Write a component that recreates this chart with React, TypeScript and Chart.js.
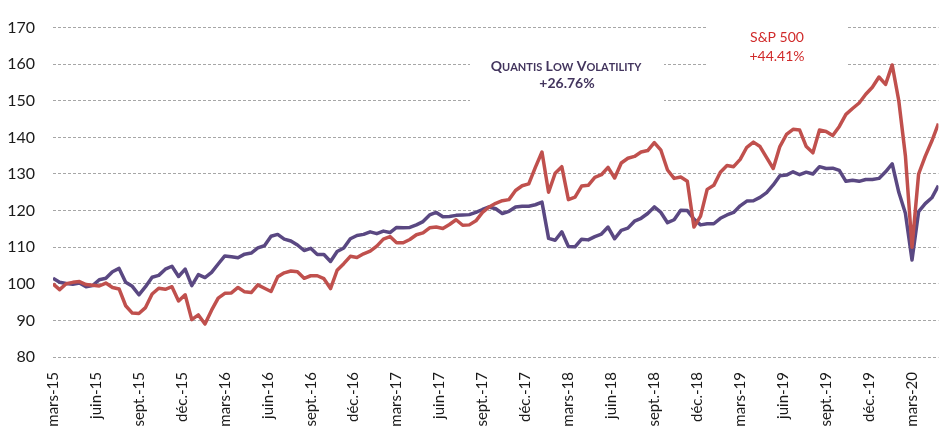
import React, { useEffect, useRef } from "react";
import { Chart, registerables } from "chart.js";

Chart.register(...registerables);

// Quarter tick labels (one every 13 weeks)
const quarterLabels = [
  "mars-15", "juin-15", "sept.-15", "déc.-15",
  "mars-16", "juin-16", "sept.-16", "déc.-16",
  "mars-17", "juin-17", "sept.-17", "déc.-17",
  "mars-18", "juin-18", "sept.-18", "déc.-18",
  "mars-19", "juin-19", "sept.-19", "déc.-19",
  "mars-20",
];
const weeksPerQuarter = 13;
const weeksPerPoint = 2;

// S&P 500 (base 100), one value every 2 weeks from March 2015
const sp500 = [
  100, 98.4, 100, 100.4, 100.6, 99.8, 99.6, 99.4, 100.2, 99.0, 98.6, 94.0, 92.0, 91.9, 93.5, 97.2, 98.8, 98.5, 99.2, 95.3, 97.0, 90.2, 91.5,
  89.0, 92.8, 96.1, 97.4, 97.5, 99.0, 97.8, 97.6, 99.7, 98.8, 97.9, 101.9, 103, 103.5, 103.3, 101.5, 102.2, 102.2, 101.4, 98.7, 103.7, 105.5,
  107.5, 107.2, 108.2, 108.9, 110.3, 112.2, 112.9, 111.2, 111.2, 112.1, 113.4, 113.9, 115.3, 115.5, 115.1, 116.2, 117.5, 116, 116.1, 117.2, 119.5, 121.0,
  122, 122.7, 123, 125.5, 126.8, 127.3, 131.8, 136, 125, 130.2, 132, 123, 123.7, 126.7, 126.9, 129.1, 129.8, 131.8, 128.9, 133, 134.3, 134.8,
  136, 136.4, 138.6, 136.5, 131.1, 128.8, 129.2, 128, 115.5, 118.5, 125.8, 126.9, 130.5, 132.3, 132, 134, 137.3, 138.7, 137.5, 134.5, 131.5,
  137.5, 140.8, 142.2, 142, 137.5, 135.8, 142, 141.6, 140.5, 143, 146.3, 147.9, 149.4, 151.8, 153.7, 156.5, 154.5, 159.8, 150, 135, 110,
  130, 134.8, 139, 143.8,
];

// Quantis Low Volatility (base 100)
const quantis = [
  101.5, 100.4, 100.1, 99.9, 100.2, 99.2, 99.5, 101.1, 101.5, 103.3, 104.2, 100.4, 99.3, 97.0, 99.2, 101.8, 102.3, 104.0, 104.8, 102.0, 104.0, 99.5, 102.5,
  101.7, 103.1, 105.4, 107.6, 107.4, 107.1, 108.1, 108.4, 109.8, 110.4, 113, 113.5, 112.2, 111.7, 110.6, 109.1, 109.7, 108, 108, 106.1, 108.8, 109.8,
  112.3, 113.2, 113.5, 114.2, 113.7, 114.4, 114, 115.4, 115.3, 115.4, 116.1, 117, 118.8, 119.5, 118.3, 118.4, 118.7, 118.8, 118.9, 119.5, 120.3, 121.0,
  120.5, 119.2, 119.8, 121, 121.2, 121.2, 121.6, 122.3, 112.4, 111.9, 114.2, 110.2, 110.1, 112.2, 112, 112.9, 113.6, 115.5, 112.3, 114.6, 115.2, 117.1,
  117.9, 119.2, 121, 119.5, 116.7, 117.5, 120.1, 120, 117.7, 116.1, 116.4, 116.4, 117.9, 118.8, 119.5, 121.3, 122.6, 122.7, 123.6, 124.9, 127,
  129.5, 129.7, 130.6, 129.8, 130.5, 130, 132, 131.5, 131.6, 131, 128, 128.3, 128, 128.5, 128.5, 128.8, 130.6, 132.8, 125, 119.3, 106.5,
  119.7, 121.9, 123.5, 126.8,
];

const sp500Name = "S&P 500";
const sp500Perf = "+44.41%";
const quantisName = "Quantis Low Volatility";
const quantisPerf = "+26.76%";

const FONT = "Lato, 'Open Sans', sans-serif";
const RED = "#C0504D";
const PURPLE = "#5A4882";
const PURPLE_TEXT = "#43355E";
const RED_TEXT = "#D02A2A";

function drawSmallCaps(
  ctx: CanvasRenderingContext2D,
  text: string,
  cx: number,
  baseline: number,
  big: number,
  small: number
) {
  const parts = Array.from(text).map((ch) => {
    const lower = ch !== ch.toUpperCase();
    return { t: ch.toUpperCase(), size: lower ? small : big };
  });
  let total = 0;
  const widths = parts.map((p) => {
    ctx.font = `bold ${p.size}px ${FONT}`;
    const w = ctx.measureText(p.t).width;
    total += w;
    return w;
  });
  let x = cx - total / 2;
  ctx.textAlign = "left";
  ctx.textBaseline = "alphabetic";
  parts.forEach((p, i) => {
    ctx.font = `bold ${p.size}px ${FONT}`;
    ctx.fillText(p.t, x, baseline);
    x += widths[i];
  });
}

const annotationPlugin = {
  id: "perfAnnotations",
  beforeDatasetsDraw(chart: any) {
    const ctx = chart.ctx as CanvasRenderingContext2D;
    ctx.save();
    ctx.fillStyle = "#ffffff";
    ctx.fillRect(470, 28, 194, 80);
    ctx.fillRect(707, 3, 139, 70);
    ctx.restore();
  },
  afterDatasetsDraw(chart: any) {
    const ctx = chart.ctx as CanvasRenderingContext2D;
    ctx.save();
    ctx.fillStyle = PURPLE_TEXT;
    drawSmallCaps(ctx, quantisName, 566, 71, 14, 11);
    ctx.font = `bold 14px ${FONT}`;
    ctx.textAlign = "center";
    ctx.textBaseline = "alphabetic";
    ctx.fillText(quantisPerf, 567, 88);
    ctx.fillStyle = RED_TEXT;
    ctx.font = `14px ${FONT}`;
    ctx.fillText(sp500Name, 777, 42);
    ctx.fillText(sp500Perf, 777, 61);
    ctx.restore();
  },
};

export default function App() {
  const canvasRef = useRef<HTMLCanvasElement | null>(null);

  useEffect(() => {
    document.body.style.margin = "0";
    const canvas = canvasRef.current;
    if (!canvas) return;
    const maxX = (sp500.length - 1) * weeksPerPoint;
    const chart = new Chart(canvas, {
      type: "line",
      data: {
        datasets: [
          {
            label: sp500Name,
            data: sp500.map((v, i) => ({ x: i * weeksPerPoint, y: v })),
            borderColor: RED,
            borderWidth: 3.5,
            pointRadius: 0,
            tension: 0,
            borderJoinStyle: "round",
            fill: false,
          },
          {
            label: quantisName,
            data: quantis.map((v, i) => ({ x: i * weeksPerPoint, y: v })),
            borderColor: PURPLE,
            borderWidth: 3.5,
            pointRadius: 0,
            tension: 0,
            borderJoinStyle: "round",
            fill: false,
          },
        ],
      },
      options: {
        animation: false,
        responsive: false,
        maintainAspectRatio: false,
        layout: { padding: { top: 15, right: 0, left: 0, bottom: 0 } },
        plugins: {
          legend: { display: false },
          tooltip: { enabled: false },
        },
        scales: {
          x: {
            type: "linear",
            min: 0,
            max: maxX,
            afterBuildTicks: (scale: any) => {
              scale.ticks = quarterLabels.map((_, i) => ({ value: i * weeksPerQuarter }));
            },
            afterFit: (scale: any) => {
              scale.height = 75;
            },
            grid: { display: false, drawTicks: false },
            border: { display: false },
            ticks: {
              autoSkip: false,
              maxRotation: 90,
              minRotation: 90,
              padding: 15,
              color: "#1a1a1a",
              font: { family: FONT, size: 15 },
              callback: (_v: any, i: number) => quarterLabels[i],
            },
          },
          y: {
            min: 80,
            max: 170,
            afterFit: (scale: any) => {
              scale.width = 53;
            },
            ticks: {
              stepSize: 10,
              padding: 18,
              color: "#1a1a1a",
              font: { family: FONT, size: 16 },
            },
            grid: { color: "#A6A6A6", lineWidth: 1, drawTicks: false },
            border: { display: false, dash: [3, 2] },
          },
        },
      },
      plugins: [annotationPlugin],
    } as any);
    return () => chart.destroy();
  }, []);

  return (
    <div style={{ width: 945, height: 432, background: "#fff" }}>
      <canvas ref={canvasRef} width={945} height={432} style={{ display: "block" }} />
    </div>
  );
}
